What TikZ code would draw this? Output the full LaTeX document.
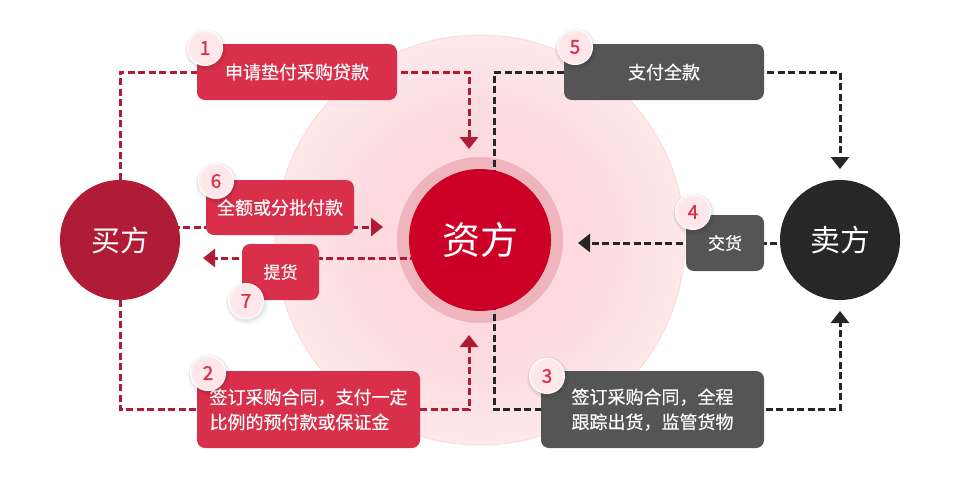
\documentclass[tikz,border=0pt]{standalone}
\usepackage{fontspec}
\newfontfamily\cjk{Noto Sans CJK SC}
\newfontfamily\cjkm[FakeBold=0.4]{Noto Sans CJK SC}
\newfontfamily\numfont[FakeBold=1.2]{Noto Sans CJK SC}
\usetikzlibrary{arrows.meta}
\definecolor{boxred}{HTML}{D8304A}
\definecolor{buyred}{HTML}{B01B36}
\definecolor{linered}{HTML}{B01C36}
\definecolor{zfred}{HTML}{CC0026}
\definecolor{ringc}{HTML}{EFB5BC}
\definecolor{boxgray}{HTML}{555555}
\definecolor{sellc}{HTML}{272727}
\definecolor{lined}{HTML}{262626}
\definecolor{bgA}{HTML}{FCDADE}
\definecolor{bgB}{HTML}{FFF5F6}
\definecolor{bgedge}{HTML}{FAD6DA}
\definecolor{badgeA}{HTML}{FDE7EA}
\definecolor{numred}{HTML}{D9304A}
\pgfdeclareradialshading{bgglow}{\pgfpoint{0bp}{0bp}}{color(0bp)=(bgA); color(14bp)=(bgA); color(35bp)=(bgB); color(50bp)=(bgB)}
\pgfdeclareradialshading{badgeglow}{\pgfpoint{0bp}{0bp}}{color(0bp)=(badgeA); color(22bp)=(badgeA); color(33bp)=(white); color(50bp)=(white)}
\pgfdeclarelayer{back}
\pgfdeclarelayer{lines}
\pgfdeclarelayer{front}
\pgfsetlayers{back,lines,main,front}
\tikzset{
  box/.style={rounded corners=8pt, minimum height=56pt, inner sep=0pt, text=white, font=\cjkm\fontsize{18}{25}\selectfont},
  redbox/.style={box, fill=boxred},
  graybox/.style={box, fill=boxgray},
  party/.style={circle, inner sep=0pt, text=white},
  rline/.style={draw=linered, line width=3pt, dash pattern=on 7pt off 3.5pt, -{Triangle[width=18pt,length=12pt]}},
  dline/.style={rline, draw=lined},
  badgenum/.style={text=numred, inner sep=0pt, font=\numfont\fontsize{19}{19}\selectfont},
}
\newcommand{\numbadge}[3]{%
  \fill[black, opacity=0.04] (#2) ++(1,2) circle (21);
  \fill[black, opacity=0.06] (#2) ++(0.5,1.5) circle (19.5);
  \fill[white] (#2) circle (18);
  \shade[shading=badgeglow] (#2) circle (17);
  \node[badgenum] (#1) at (#2) {#3};
}
\begin{document}
\begin{tikzpicture}[x=1pt,y=-1pt]
\useasboundingbox (0,0) rectangle (960,480);
\begin{pgfonlayer}{back}
  \shadedraw[shading=bgglow, draw=bgedge, line width=0.8pt] (480,240) circle (205);
  \fill[ringc] (480,240) circle (83);
\end{pgfonlayer}

% parties
\node[party, fill=buyred, minimum size=120pt, font=\cjk\fontsize{29}{29}\selectfont] (buyer) at (120,240) {买方};
\node[party, fill=zfred, minimum size=142pt, font=\cjk\fontsize{38}{38}\selectfont] (zf) at (480,240) {资方};
\node[party, fill=sellc, minimum size=120pt, font=\cjk\fontsize{30}{30}\selectfont] (seller) at (840,240) {卖方};

% boxes
\node[redbox, minimum width=200pt] (b1) at (297,72) {申请垫付采购贷款};
\node[redbox, minimum width=148pt, minimum height=55pt] (b6) at (280,207.5) {全额或分批付款};
\node[redbox, minimum width=77pt, font=\cjkm\fontsize{17}{25}\selectfont] (b7) at (280.5,272) {提货};
\node[redbox, minimum width=223pt, minimum height=77pt, align=left] (b2) at (308.5,409.5) {签订采购合同，支付一定\\比例的预付款或保证金};
\node[graybox, minimum width=200pt] (b5) at (664,72) {支付全款};
\node[graybox, minimum width=78pt, font=\cjkm\fontsize{17}{25}\selectfont] (b4) at (725,243) {交货};
\node[graybox, minimum width=223pt, minimum height=77pt, align=left] (b3) at (652.5,409.5) {签订采购合同，全程\\跟踪出货，监管货物};

% connector ends
\coordinate (t1) at (469,149);
\coordinate (t2) at (469,335);
\coordinate (t6) at (383,227);
\coordinate (t7) at (203,258);
\coordinate (t5) at (840,169);
\coordinate (t4) at (578,243);
\coordinate (t3) at (840,311);
\coordinate (zfr) at (494,240);

\begin{pgfonlayer}{lines}
  \draw[rline] (buyer) |- (t1 |- b1) -- (t1);
  \draw[rline] (buyer) |- (t2 |- b2) -- (t2);
  \draw[rline] (buyer.center |- t6) -- (t6);
  \draw[rline] (zf.center |- t7) -- (t7);
  \draw[dline] (zfr) |- (t5 |- b5) -- (t5);
  \draw[dline] (zfr) |- (t3 |- b3) -- (t3);
  \draw[dline] (seller.center |- t4) -- (t4);
\end{pgfonlayer}

\begin{pgfonlayer}{front}
  \numbadge{n1}{205,48}{1}
  \numbadge{n6}{216,181}{6}
  \numbadge{n7}{246,301}{7}
  \numbadge{n2}{208,373}{2}
  \numbadge{n5}{575,47}{5}
  \numbadge{n4}{693,212}{4}
  \numbadge{n3}{547,376}{3}
\end{pgfonlayer}
\end{tikzpicture}
\end{document}
